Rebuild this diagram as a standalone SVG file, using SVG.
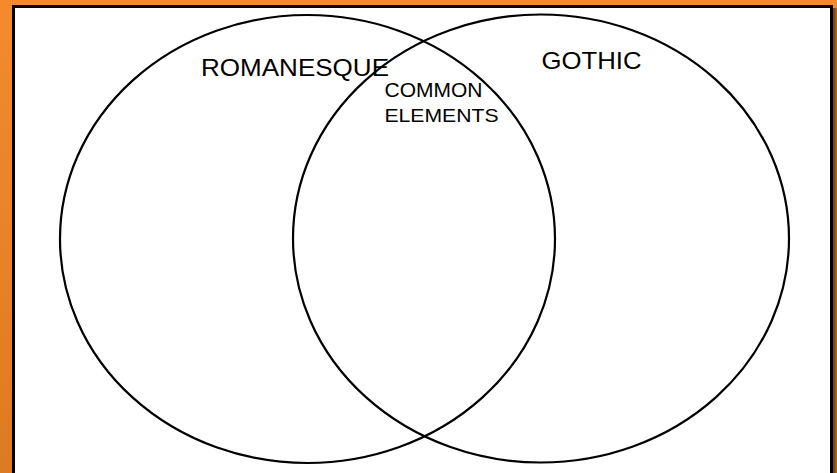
<svg xmlns="http://www.w3.org/2000/svg" width="837" height="473" viewBox="0 0 837 473">
<defs>
<linearGradient id="og" x1="0" y1="0" x2="0" y2="1">
<stop offset="0" stop-color="#F58A2D"/>
<stop offset="1" stop-color="#DE7A22"/>
</linearGradient>
<linearGradient id="sh" x1="0" y1="0" x2="1" y2="0">
<stop offset="0" stop-color="#6B3A12"/>
<stop offset="1" stop-color="#B8651E"/>
</linearGradient>
</defs>
<style>
.ring{fill:none;stroke:#000;stroke-width:2.2}
.lbl{font-family:"Liberation Sans",Arial,sans-serif;fill:#000}
</style>
<rect x="0" y="0" width="837" height="473" fill="url(#og)"/>
<rect x="833" y="8" width="4" height="465" fill="url(#sh)"/>
<rect x="13.5" y="6.5" width="818" height="470" fill="#fff" stroke="#000" stroke-width="3"/>
<g id="romanesque">
<ellipse class="ring" cx="307.5" cy="239" rx="247.5" ry="224"/>
<text class="lbl" x="201" y="76" font-size="24" textLength="188" lengthAdjust="spacingAndGlyphs">ROMANESQUE</text>
</g>
<g id="gothic">
<ellipse class="ring" cx="541" cy="238.5" rx="248" ry="224"/>
<text class="lbl" x="541.5" y="68.5" font-size="24" textLength="100" lengthAdjust="spacingAndGlyphs">GOTHIC</text>
</g>
<g id="common">
<text class="lbl" x="384.5" y="96.5" font-size="19.5" textLength="98" lengthAdjust="spacingAndGlyphs">COMMON</text>
<text class="lbl" x="384.5" y="121.5" font-size="19" textLength="114" lengthAdjust="spacingAndGlyphs">ELEMENTS</text>
</g>
<g id="connectors"/>
</svg>
